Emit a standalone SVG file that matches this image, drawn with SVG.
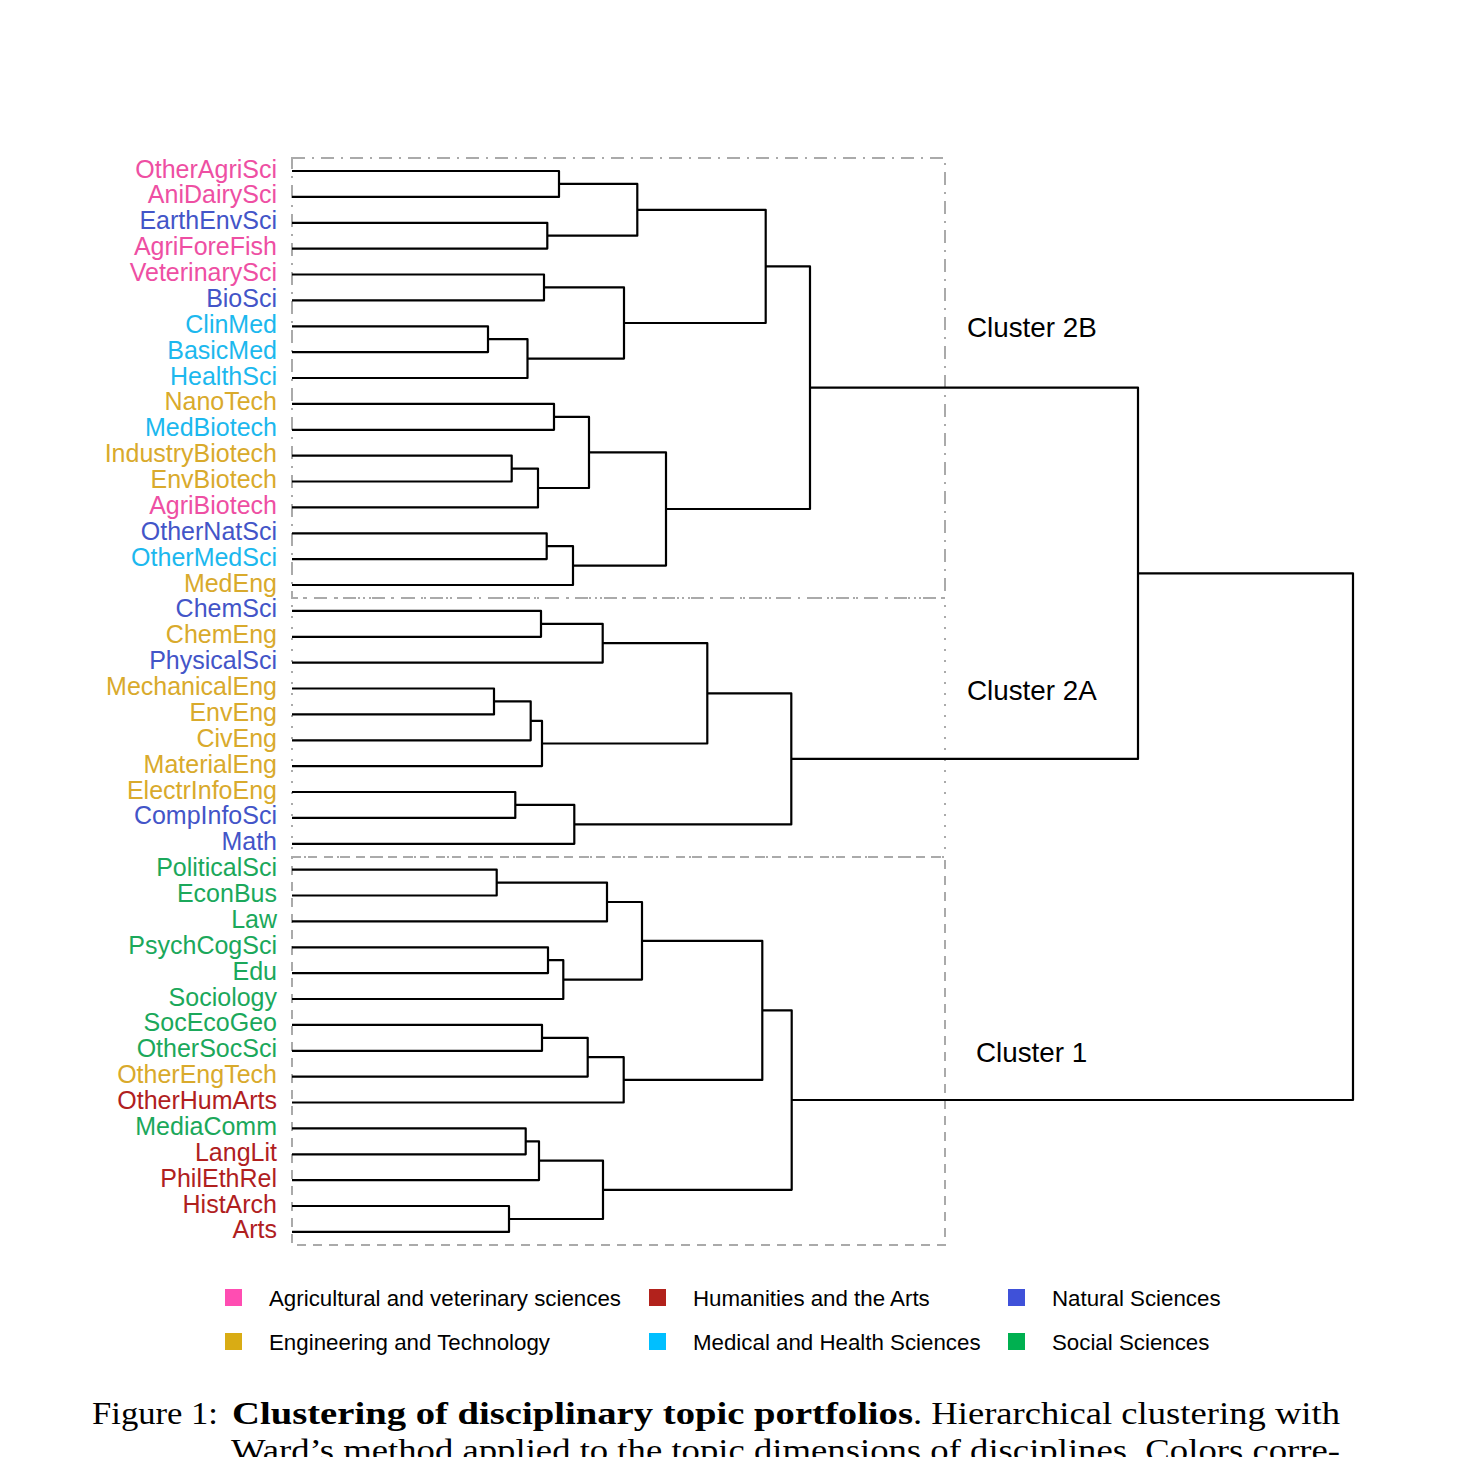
<svg xmlns="http://www.w3.org/2000/svg" width="1457" height="1457" viewBox="0 0 1457 1457">
<style>
.lbl{font-family:"Liberation Sans",Arial,sans-serif;font-size:25px;text-anchor:end}
.agri{fill:#EE4FA3}.nat{fill:#4355C8}.med{fill:#1CB8EE}.eng{fill:#D9AA2C}.soc{fill:#1BA85B}.hum{fill:#B0201E}
.box{fill:none;stroke:#AAAAAA;stroke-width:2}
.dend path{fill:none;stroke:#000;stroke-width:2.2;stroke-linejoin:round}
.cl{font-family:"Liberation Sans",Arial,sans-serif;font-size:27.8px;fill:#000}
.leg{font-family:"Liberation Sans",Arial,sans-serif;font-size:22.3px;fill:#000}
.cap{font-family:"Liberation Serif","Times New Roman",serif;font-size:31px;fill:#000}
</style>
<rect width="1457" height="1457" fill="#fff"/>

<g id="cluster-boxes">
<rect id="box-2B" class="box" x="292" y="158" width="653" height="440" stroke-dasharray="13 7 2 7"/>
<rect id="box-2A" class="box" x="292" y="598" width="653" height="259" stroke-dasharray="2 9"/>
<rect id="box-1" class="box" x="292" y="857" width="653" height="388" stroke-dasharray="9 7"/>
</g>

<g id="labels">
<g id="n-OtherAgriSci"><text class="lbl agri" x="277" y="177.5">OtherAgriSci</text></g>
<g id="n-AniDairySci"><text class="lbl agri" x="277" y="203.4">AniDairySci</text></g>
<g id="n-EarthEnvSci"><text class="lbl nat" x="277" y="229.3">EarthEnvSci</text></g>
<g id="n-AgriForeFish"><text class="lbl agri" x="277" y="255.1">AgriForeFish</text></g>
<g id="n-VeterinarySci"><text class="lbl agri" x="277" y="281">VeterinarySci</text></g>
<g id="n-BioSci"><text class="lbl nat" x="277" y="306.9">BioSci</text></g>
<g id="n-ClinMed"><text class="lbl med" x="277" y="332.8">ClinMed</text></g>
<g id="n-BasicMed"><text class="lbl med" x="277" y="358.6">BasicMed</text></g>
<g id="n-HealthSci"><text class="lbl med" x="277" y="384.5">HealthSci</text></g>
<g id="n-NanoTech"><text class="lbl eng" x="277" y="410.4">NanoTech</text></g>
<g id="n-MedBiotech"><text class="lbl med" x="277" y="436.3">MedBiotech</text></g>
<g id="n-IndustryBiotech"><text class="lbl eng" x="277" y="462.1">IndustryBiotech</text></g>
<g id="n-EnvBiotech"><text class="lbl eng" x="277" y="488">EnvBiotech</text></g>
<g id="n-AgriBiotech"><text class="lbl agri" x="277" y="513.9">AgriBiotech</text></g>
<g id="n-OtherNatSci"><text class="lbl nat" x="277" y="539.8">OtherNatSci</text></g>
<g id="n-OtherMedSci"><text class="lbl med" x="277" y="565.6">OtherMedSci</text></g>
<g id="n-MedEng"><text class="lbl eng" x="277" y="591.5">MedEng</text></g>
<g id="n-ChemSci"><text class="lbl nat" x="277" y="617.4">ChemSci</text></g>
<g id="n-ChemEng"><text class="lbl eng" x="277" y="643.3">ChemEng</text></g>
<g id="n-PhysicalSci"><text class="lbl nat" x="277" y="669.1">PhysicalSci</text></g>
<g id="n-MechanicalEng"><text class="lbl eng" x="277" y="695">MechanicalEng</text></g>
<g id="n-EnvEng"><text class="lbl eng" x="277" y="720.9">EnvEng</text></g>
<g id="n-CivEng"><text class="lbl eng" x="277" y="746.8">CivEng</text></g>
<g id="n-MaterialEng"><text class="lbl eng" x="277" y="772.6">MaterialEng</text></g>
<g id="n-ElectrInfoEng"><text class="lbl eng" x="277" y="798.5">ElectrInfoEng</text></g>
<g id="n-CompInfoSci"><text class="lbl nat" x="277" y="824.4">CompInfoSci</text></g>
<g id="n-Math"><text class="lbl nat" x="277" y="850.3">Math</text></g>
<g id="n-PoliticalSci"><text class="lbl soc" x="277" y="876.1">PoliticalSci</text></g>
<g id="n-EconBus"><text class="lbl soc" x="277" y="902">EconBus</text></g>
<g id="n-Law"><text class="lbl soc" x="277" y="927.9">Law</text></g>
<g id="n-PsychCogSci"><text class="lbl soc" x="277" y="953.8">PsychCogSci</text></g>
<g id="n-Edu"><text class="lbl soc" x="277" y="979.6">Edu</text></g>
<g id="n-Sociology"><text class="lbl soc" x="277" y="1005.5">Sociology</text></g>
<g id="n-SocEcoGeo"><text class="lbl soc" x="277" y="1031.4">SocEcoGeo</text></g>
<g id="n-OtherSocSci"><text class="lbl soc" x="277" y="1057.3">OtherSocSci</text></g>
<g id="n-OtherEngTech"><text class="lbl eng" x="277" y="1083.1">OtherEngTech</text></g>
<g id="n-OtherHumArts"><text class="lbl hum" x="277" y="1109">OtherHumArts</text></g>
<g id="n-MediaComm"><text class="lbl soc" x="277" y="1134.9">MediaComm</text></g>
<g id="n-LangLit"><text class="lbl hum" x="277" y="1160.8">LangLit</text></g>
<g id="n-PhilEthRel"><text class="lbl hum" x="277" y="1186.6">PhilEthRel</text></g>
<g id="n-HistArch"><text class="lbl hum" x="277" y="1212.5">HistArch</text></g>
<g id="n-Arts"><text class="lbl hum" x="277" y="1238.4">Arts</text></g>
</g>

<g id="connectors" class="dend">
<path d="M292 171 H559 V196.9 H292"/>
<path d="M292 222.8 H547.3 V248.6 H292"/>
<path d="M559 183.95 H637.3 V235.7 H547.3"/>
<path d="M292 274.5 H544 V300.4 H292"/>
<path d="M292 326.3 H488 V352.1 H292"/>
<path d="M488 339.2 H527.5 V378 H292"/>
<path d="M544 287.45 H624 V358.6 H527.5"/>
<path d="M637.3 209.8 H765.7 V323 H624"/>
<path d="M292 403.9 H554 V429.8 H292"/>
<path d="M292 455.6 H511.7 V481.5 H292"/>
<path d="M511.7 468.55 H538 V507.4 H292"/>
<path d="M554 416.85 H589 V488 H538"/>
<path d="M292 533.3 H546.7 V559.1 H292"/>
<path d="M546.7 546.2 H573 V585 H292"/>
<path d="M589 452.4 H666 V565.6 H573"/>
<path d="M765.7 266.4 H810 V509 H666"/>
<path d="M292 610.9 H541 V636.8 H292"/>
<path d="M541 623.85 H602.7 V662.6 H292"/>
<path d="M292 688.5 H494 V714.4 H292"/>
<path d="M494 701.45 H530.7 V740.3 H292"/>
<path d="M530.7 720.9 H542 V766.1 H292"/>
<path d="M602.7 643.2 H707.3 V743.5 H542"/>
<path d="M292 792 H515.3 V817.9 H292"/>
<path d="M515.3 804.95 H574.3 V843.8 H292"/>
<path d="M707.3 693.35 H791.3 V824.4 H574.3"/>
<path d="M292 869.6 H496.7 V895.5 H292"/>
<path d="M496.7 882.55 H607 V921.4 H292"/>
<path d="M292 947.3 H548 V973.1 H292"/>
<path d="M548 960.2 H563.3 V999 H292"/>
<path d="M607 902 H642 V979.6 H563.3"/>
<path d="M292 1024.9 H542 V1050.8 H292"/>
<path d="M542 1037.85 H587.7 V1076.6 H292"/>
<path d="M587.7 1057.2 H623.7 V1102.5 H292"/>
<path d="M642 940.8 H762.3 V1079.9 H623.7"/>
<path d="M292 1128.4 H525.7 V1154.3 H292"/>
<path d="M525.7 1141.35 H539 V1180.1 H292"/>
<path d="M292 1206 H509 V1231.9 H292"/>
<path d="M539 1160.7 H603 V1219 H509"/>
<path d="M762.3 1010.3 H791.7 V1189.85 H603"/>
<path d="M810 387.7 H1138 V758.9 H791.3"/>
<path d="M1138 573.3 H1353 V1100 H791.7" stroke-width="1.8"/>
</g>

<g id="cluster-labels">
<text class="cl" x="967" y="337">Cluster 2B</text>
<text class="cl" x="967" y="700">Cluster 2A</text>
<text class="cl" x="976" y="1062">Cluster 1</text>
</g>

<g id="legend">
<g id="leg-agri"><rect x="225" y="1289" width="17" height="17" fill="#FF4DB2"/><text class="leg" x="269" y="1306">Agricultural and veterinary sciences</text></g>
<g id="leg-hum"><rect x="649" y="1289" width="17" height="17" fill="#B2221C"/><text class="leg" x="693" y="1306">Humanities and the Arts</text></g>
<g id="leg-nat"><rect x="1008" y="1289" width="17" height="17" fill="#3F51D9"/><text class="leg" x="1052" y="1306">Natural Sciences</text></g>
<g id="leg-eng"><rect x="225" y="1333" width="17" height="17" fill="#D9AC14"/><text class="leg" x="269" y="1350">Engineering and Technology</text></g>
<g id="leg-med"><rect x="649" y="1333" width="17" height="17" fill="#00BFFF"/><text class="leg" x="693" y="1350">Medical and Health Sciences</text></g>
<g id="leg-soc"><rect x="1008" y="1333" width="17" height="17" fill="#00B050"/><text class="leg" x="1052" y="1350">Social Sciences</text></g>
</g>

<g id="caption">
<text class="cap" y="1424"><tspan x="92" textLength="126" lengthAdjust="spacingAndGlyphs">Figure 1:</tspan><tspan x="232" font-weight="bold" textLength="681" lengthAdjust="spacingAndGlyphs">Clustering of disciplinary topic portfolios</tspan><tspan x="913" textLength="427" lengthAdjust="spacingAndGlyphs">. Hierarchical clustering with</tspan></text>
<text class="cap" x="231" y="1461" textLength="1109" lengthAdjust="spacingAndGlyphs">Ward’s method applied to the topic dimensions of disciplines. Colors corre-</text>
</g>
</svg>
